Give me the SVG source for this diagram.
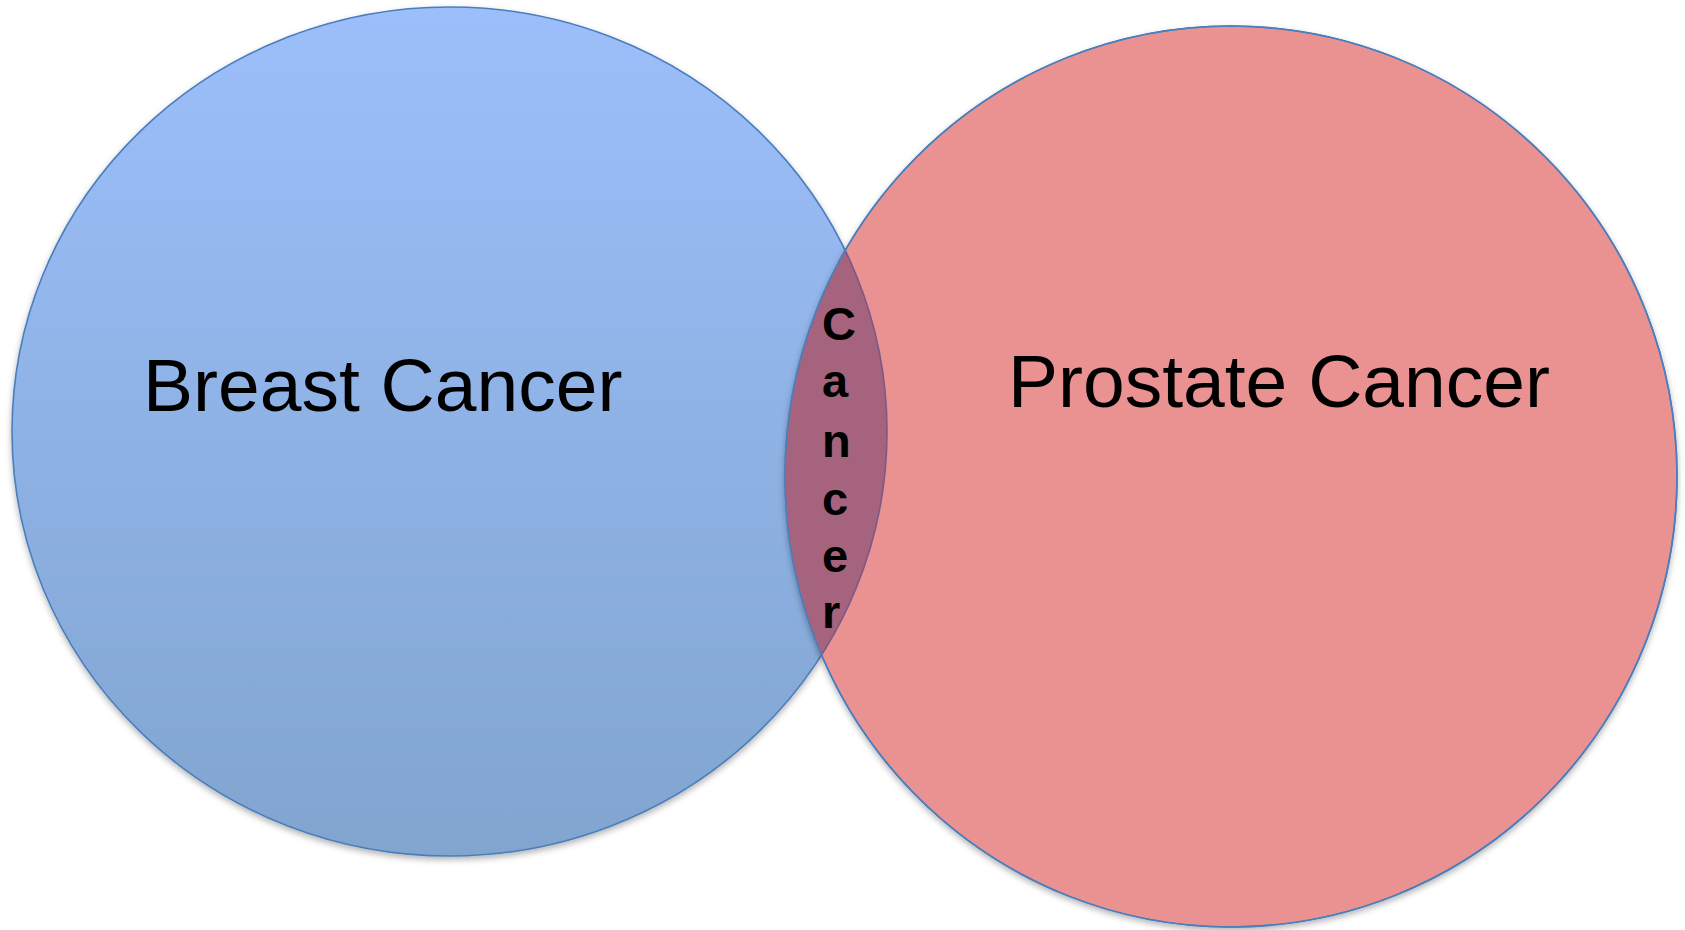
<svg xmlns="http://www.w3.org/2000/svg" width="1685" height="930" viewBox="0 0 1685 930">
  <defs>
    <linearGradient id="blueGrad" x1="0" y1="0" x2="0" y2="1">
      <stop offset="0" stop-color="#9CBFFB"/>
      <stop offset="1" stop-color="#81A5CF"/>
    </linearGradient>
    <filter id="shadow" x="-5%" y="-5%" width="110%" height="112%">
      <feDropShadow dx="0" dy="3" stdDeviation="3" flood-color="#000" flood-opacity="0.3"/>
    </filter>
    <clipPath id="clipRight">
      <ellipse cx="1231" cy="476.5" rx="446" ry="450.5"/>
    </clipPath>
    <style>
      .label { font-family: "Liberation Sans", Arial, sans-serif; font-size: 75px; fill: #000; }
      .mid { font-family: "Liberation Sans", Arial, sans-serif; font-size: 47px; font-weight: bold; fill: #000; }
      .edge { stroke: #4A7EBD; stroke-width: 1.6; }
    </style>
  </defs>

  <g id="breast">
    <ellipse cx="449.5" cy="431.5" rx="437.5" ry="424.5" fill="url(#blueGrad)" class="edge" filter="url(#shadow)"/>
    <text class="label" x="143" y="411">Breast Cancer</text>
  </g>

  <g id="prostate">
    <ellipse cx="1231" cy="476.5" rx="446" ry="450.5" fill="#E99291" class="edge" filter="url(#shadow)"/>
    <text class="label" x="1008" y="407">Prostate Cancer</text>
  </g>

  <g id="overlap">
    <ellipse cx="449.5" cy="431.5" rx="437.5" ry="424.5" fill="#A6637D" stroke="#7C5888" stroke-width="1.6" clip-path="url(#clipRight)"/>
    <ellipse cx="1231" cy="476.5" rx="446" ry="450.5" fill="none" class="edge"/>
    <g class="mid">
      <text x="822" y="340">C</text>
      <text x="822" y="397">a</text>
      <text x="822" y="457">n</text>
      <text x="822" y="515">c</text>
      <text x="822" y="572">e</text>
      <text x="822" y="628">r</text>
    </g>
  </g>

  <g id="connectors"/>
</svg>
